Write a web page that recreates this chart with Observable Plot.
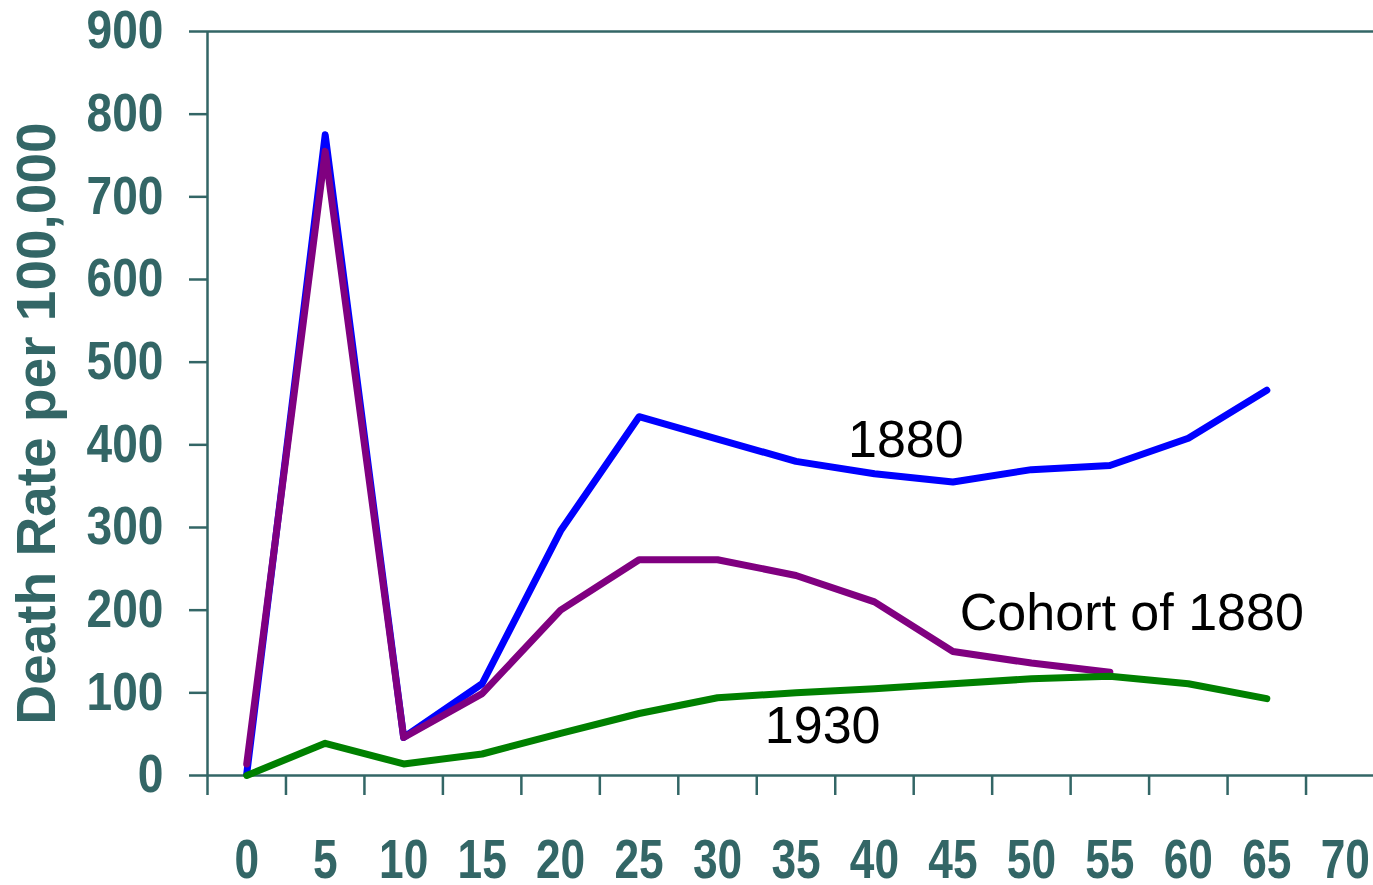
<!DOCTYPE html>
<html><head><meta charset="utf-8">
<script src="https://cdn.jsdelivr.net/npm/d3@7"></script>
<script src="https://cdn.jsdelivr.net/npm/@observablehq/plot@0.6"></script>
<style>
html,body{margin:0;padding:0;background:#fff;overflow:hidden;}
</style></head><body><div id="chart"></div>
<script>
// Age at death (x categories)
const ages = [0, 5, 10, 15, 20, 25, 30, 35, 40, 45, 50, 55, 60, 65];
const cohortAges = [0, 5, 10, 15, 20, 25, 30, 35, 40, 45, 50, 55];
// Death rate per 100,000
const rate1880 = [2, 775, 46, 111, 296, 434, 407, 380, 365, 355, 370, 375, 408, 466];
const rateCohort1880 = [14, 755, 46, 99, 200, 261, 261, 242, 210, 150, 136, 125];
const rate1930 = [0, 39, 14, 26, 51, 75, 94, 100, 105, 111, 117, 120, 111, 93];
// Axis ticks
const xTickLabels = [0, 5, 10, 15, 20, 25, 30, 35, 40, 45, 50, 55, 60, 65, 70];
const xTickEdges = [-2.5, 2.5, 7.5, 12.5, 17.5, 22.5, 27.5, 32.5, 37.5, 42.5, 47.5, 52.5, 57.5, 62.5, 67.5, 72.5];
const yTicks = [0, 100, 200, 300, 400, 500, 600, 700, 800, 900];
const yTitle = "Death Rate per 100,000";
// Series annotations (text, age, rate)
const annoText = ["1880", "Cohort of 1880", "1930"];
const annoX = [42, 56.4, 36.7];
const annoY = [406, 196, 59];

const axisColor = "#336666";
const mainFont = "'Liberation Sans', Arial, sans-serif";

const s1880 = ages.map((a, i) => ({age: a, rate: rate1880[i]}));
const sCohort = cohortAges.map((a, i) => ({age: a, rate: rateCohort1880[i]}));
const s1930 = ages.map((a, i) => ({age: a, rate: rate1930[i]}));
const annos = annoText.map((t, i) => ({text: t, x: annoX[i], y: annoY[i]}));

const lineOpts = {x: "age", y: "rate", strokeWidth: 7, strokeLinejoin: "round", strokeLinecap: "round"};

const chart = Plot.plot({
  width: 1373, height: 885,
  marginLeft: 207, marginRight: -11, marginTop: 31, marginBottom: 110,
  x: {domain: [-2.5, 72.5]},
  y: {domain: [0, 900]},
  style: {background: "white", fontFamily: mainFont, overflow: "visible"},
  marks: [
    Plot.ruleY([0, 900], {stroke: axisColor, strokeWidth: 2.5}),
    Plot.ruleX([-2.5], {stroke: axisColor, strokeWidth: 2.5}),
    Plot.axisY({ticks: yTicks, tickSize: 18, tickPadding: 26, color: axisColor, strokeWidth: 2.5,
      fontSize: 53, fontWeight: "bold", fontFamily: mainFont, label: null}),
    Plot.axisX({ticks: xTickEdges, tickSize: 20, tickFormat: () => "", color: axisColor, strokeWidth: 2.5, label: null}),
    Plot.axisX({ticks: xTickLabels, tickSize: 0, tickPadding: 63, color: axisColor,
      fontSize: 56, fontWeight: "bold", fontFamily: mainFont, label: null}),
    Plot.text([yTitle], {frameAnchor: "left", textAnchor: "middle", rotate: -90, dx: -170, dy: 20, fontSize: 55,
      fontWeight: "bold", fill: axisColor, fontFamily: mainFont}),
    Plot.line(s1880, {...lineOpts, stroke: "#0000ff"}),
    Plot.line(sCohort, {...lineOpts, stroke: "#800080"}),
    Plot.line(s1930, {...lineOpts, stroke: "#008000"}),
    Plot.text(annos, {x: "x", y: "y", text: "text", fontSize: 52, fill: "black", fontFamily: mainFont})
  ]
});
document.getElementById("chart").appendChild(chart);
// Condensed look for the tick labels (narrow bold face in the original)
function condense(selector, k) {
  chart.querySelectorAll(selector).forEach(t => {
    const w = t.getComputedTextLength();
    if (w > 0) {
      t.setAttribute("textLength", (w * k).toFixed(1));
      t.setAttribute("lengthAdjust", "spacingAndGlyphs");
    }
  });
}
condense('g[aria-label="y-axis tick label"] text', 0.87);
condense('g[aria-label="x-axis tick label"] text', 0.79);
</script></body></html>
